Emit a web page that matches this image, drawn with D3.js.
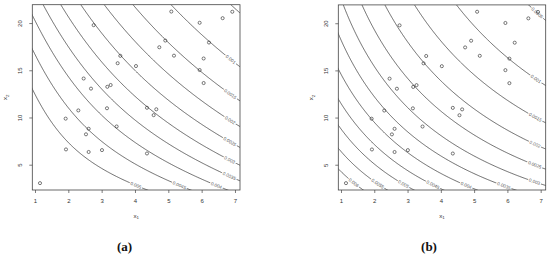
<!DOCTYPE html>
<html><head><meta charset="utf-8">
<script src="https://cdn.jsdelivr.net/npm/d3@7"></script>
<style>body{margin:0;background:#fff}svg{display:block}</style>
</head><body>
<svg id="c" width="550" height="256"></svg>
<script>
// ---- data ----
const x1Values = [1.15,1.93,1.92,2.30,2.46,2.53,2.61,2.61,2.68,2.76,3.01,3.16,3.17,3.27,3.45,3.48,3.56,4.03,4.36,4.56,4.64,4.36,4.73,4.91,5.09,5.17,5.94,6.22,6.06,5.94,6.06,6.63,6.92];
const x2Values = [3.10,6.67,9.93,10.80,14.18,8.27,8.86,6.40,13.11,19.83,6.60,11.03,13.30,13.49,9.10,15.80,16.58,15.50,11.08,10.30,10.92,6.24,17.49,18.20,21.27,16.60,20.08,17.99,16.30,15.08,13.70,20.57,21.25];
const xTicks = [1,2,3,4,5,6,7];
const yTicks = [5,10,15,20];
const levelsA = [0.0005,0.001,0.0015,0.002,0.0025,0.003,0.0035,0.004,0.0045,0.005];
const levelsB = [0.0005,0.001,0.0015,0.002,0.0025,0.003,0.0035,0.004,0.0045,0.005,0.0055,0.006];
// contour readings (x1, x2, level) used to rebuild each surface
const readA_x1 = [0.95,0.95,0.95,1.245,1.797,2.397,3.126,3.897,5.097,6.897,6.85,6.85,6.85,6.85,6.85,6.85,4.0,5.04,6.07,6.21,4.92,5.95];
const readA_x2 = [13.27,16.88,20.21,22,22,22,22,22,22,22,16.17,12.26,9.85,8.09,5.32,3.90,3.14,3.14,3.14,18.0,18.2,15.1];
const readA_lev = [0.005,0.0045,0.004,0.0035,0.003,0.0025,0.002,0.0015,0.001,0.0005,0.001,0.0015,0.002,0.0025,0.003,0.0035,0.005,0.0045,0.004,0.001,0.0015,0.0015];
const readB_x1 = [0.95,0.95,0.95,0.95,0.95,0.95,1.07,1.67,2.32,3.17,4.47,6.67,6.82,6.82,6.82,6.82,6.82,6.76,1.21,1.96,2.71,3.55,4.45,5.53,6.05];
const readB_x2 = [4.29,6.63,9.29,11.95,14.93,18.44,22,22,22,22,22,22,3.22,5.14,7.16,10.14,14.18,21.5,3.64,3.43,3.33,3.43,3.33,3.22,16.3];
const readB_lev = [0.006,0.0055,0.005,0.0045,0.004,0.0035,0.003,0.0025,0.002,0.0015,0.001,0.0005,0.003,0.0025,0.002,0.0015,0.001,0.0005,0.006,0.0055,0.005,0.0045,0.004,0.0035,0.001];

// ---- surface fit: log f = quadratic in (x1,x2) ----
function solve(A,b){const n=b.length;for(let k=0;k<n;k++){let p=k;for(let i=k+1;i<n;i++)if(Math.abs(A[i][k])>Math.abs(A[p][k]))p=i;[A[k],A[p]]=[A[p],A[k]];[b[k],b[p]]=[b[p],b[k]];for(let i=k+1;i<n;i++){const f=A[i][k]/A[k][k];for(let j=k;j<n;j++)A[i][j]-=f*A[k][j];b[i]-=f*b[k];}}const x=new Array(n).fill(0);for(let i=n-1;i>=0;i--){let s=b[i];for(let j=i+1;j<n;j++)s-=A[i][j]*x[j];x[i]=s/A[i][i];}return x;}
function fitSurface(xs,ys,ls){
  const phi=(x,y)=>{const u=x/7,v=y/22;return [1,u,v,u*v,u*u,v*v];};
  const n=6,A=d3.range(n).map(()=>new Array(n).fill(0)),B=new Array(n).fill(0);
  xs.forEach((xv,i)=>{const p=phi(xv,ys[i]);const t=Math.log(ls[i]);for(let r=0;r<n;r++){B[r]+=p[r]*t;for(let c=0;c<n;c++)A[r][c]+=p[r]*p[c];}});
  for(let r=0;r<n;r++)A[r][r]+=1e-6;
  const beta=solve(A,B);
  return (x,y)=>Math.exp(d3.sum(phi(x,y),(v,i)=>v*beta[i]));
}

const svg = d3.select('#c');
const font = 'Liberation Sans, Arial, Helvetica, sans-serif';
const pad = (e)=>{const w=e[1]-e[0];return [e[0]-0.04*w,e[1]+0.04*w];};
const xDom = pad(d3.extent(x1Values)), yDom = pad(d3.extent(x2Values));

const panels = [
  {id:'a', left:32.3, right:240, top:4.7, bottom:190, levels:levelsA, f:fitSurface(readA_x1,readA_x2,readA_lev), tag:'(a)', tagX:124.5},
  {id:'b', left:338.3, right:545.7, top:4.9, bottom:190, levels:levelsB, f:fitSurface(readB_x1,readB_x2,readB_lev), tag:'(b)', tagX:429}
];

panels.forEach(p=>{
  const x=d3.scaleLinear().domain(xDom).range([p.left,p.right]);
  const y=d3.scaleLinear().domain(yDom).range([p.bottom,p.top]);
  const g=svg.append('g');
  const defs=svg.append('defs');
  defs.append('clipPath').attr('id','clip'+p.id).append('rect')
    .attr('x',p.left).attr('y',p.top).attr('width',p.right-p.left).attr('height',p.bottom-p.top);
  const mask=defs.append('mask').attr('id','mask'+p.id).attr('maskUnits','userSpaceOnUse')
    .attr('x',0).attr('y',0).attr('width',550).attr('height',256);
  mask.append('rect').attr('x',0).attr('y',0).attr('width',550).attr('height',256).attr('fill','#fff');

  // grid
  const nx=260,ny=260;
  const gx0=xDom[0]-0.4,gx1=xDom[1]+0.4,gy0=yDom[0]-1.2,gy1=yDom[1]+1.2;
  const dx=(gx1-gx0)/(nx-1),dy=(gy1-gy0)/(ny-1);
  const vals=new Float64Array(nx*ny);
  for(let j=0;j<ny;j++)for(let i=0;i<nx;i++)vals[j*nx+i]=p.f(gx0+i*dx,gy0+j*dy);
  const cs=d3.contours().size([nx,ny]).thresholds(p.levels)(vals);
  const toPx=(pt)=>[x(gx0+(pt[0]-0.5)*dx),y(gy0+(pt[1]-0.5)*dy)];
  const inside=(q)=>q[0]>=p.left-0.01&&q[0]<=p.right+0.01&&q[1]>=p.top-0.01&&q[1]<=p.bottom+0.01;

  const lineG=g.append('g').attr('clip-path','url(#clip'+p.id+')').attr('mask','url(#mask'+p.id+')');
  const labG=g.append('g');
  const lineGen=d3.line();

  cs.forEach(c=>{
    const runs=[];
    c.coordinates.forEach(poly=>poly.forEach(ring=>{
      const pts=ring.map(toPx);
      lineG.append('path').attr('d',lineGen(pts)+'Z').attr('fill','none').attr('stroke','#1a1a1a').attr('stroke-width',0.65);
      // split into inside runs
      let s=pts.findIndex(q=>!inside(q));
      if(s<0)return;
      const rot=pts.slice(s).concat(pts.slice(0,s));
      let cur=[];
      rot.forEach(q=>{if(inside(q))cur.push(q);else{if(cur.length>1)runs.push(cur);cur=[];}});
      if(cur.length>1)runs.push(cur);
    }));
    if(!runs.length)return;
    const len=r=>d3.sum(d3.pairs(r),([a,b])=>Math.hypot(b[0]-a[0],b[1]-a[1]));
    let run=runs.reduce((a,b)=>len(a)>len(b)?a:b);
    const e0=run[0],e1=run[run.length-1];
    if(e0[0]+e0[1]<e1[0]+e1[1])run=run.slice().reverse();
    const L=len(run);
    const txt=String(c.value);
    const t=labG.append('text').text(txt).attr('font-family',font).attr('font-size',4.6)
      .attr('fill','#555').attr('text-anchor','middle').attr('dominant-baseline','central');
    const w=t.node().getComputedTextLength();
    if(L<w*0.95){t.remove();return;}
    const D=Math.min(11.5,L/2);
    const at=(d)=>{let acc=0;for(let i=1;i<run.length;i++){const a=run[i-1],b=run[i];const s=Math.hypot(b[0]-a[0],b[1]-a[1]);if(acc+s>=d){const k=(d-acc)/s;return [a[0]+k*(b[0]-a[0]),a[1]+k*(b[1]-a[1])];}acc+=s;}return run[run.length-1];};
    const ctr=at(D),pa=at(Math.max(0,D-4)),pb=at(D+4);
    let ang=Math.atan2(pa[1]-pb[1],pa[0]-pb[0])*180/Math.PI;
    if(ang>90)ang-=180;if(ang<=-90)ang+=180;
    t.attr('transform',`translate(${ctr[0]},${ctr[1]}) rotate(${ang})`);
    mask.append('rect').attr('x',-w/2-1).attr('y',-2.6).attr('width',w+2).attr('height',5.2)
      .attr('fill','#000').attr('transform',`translate(${ctr[0]},${ctr[1]}) rotate(${ang})`);
  });

  // points
  g.append('g').selectAll('circle').data(x1Values).join('circle')
    .attr('cx',(d)=>x(d)).attr('cy',(d,i)=>y(x2Values[i])).attr('r',1.55)
    .attr('fill','none').attr('stroke','#222').attr('stroke-width',0.6);

  // box
  g.append('rect').attr('x',p.left).attr('y',p.top).attr('width',p.right-p.left).attr('height',p.bottom-p.top)
    .attr('fill','none').attr('stroke','#444').attr('stroke-width',0.8);

  // x axis
  const xa=g.append('g').attr('transform',`translate(0,${p.bottom})`)
    .call(d3.axisBottom(x).tickValues(xTicks).tickSize(3).tickSizeOuter(0).tickPadding(5.5).tickFormat(d3.format('d')));
  xa.select('.domain').remove();
  xa.selectAll('line').attr('stroke','#444').attr('stroke-width',0.7);
  xa.selectAll('text').attr('font-family',font).attr('font-size',6).attr('fill','#333');
  // y axis
  const ya=g.append('g');
  ya.selectAll('line').data(yTicks).join('line').attr('x1',p.left-3).attr('x2',p.left)
    .attr('y1',d=>y(d)).attr('y2',d=>y(d)).attr('stroke','#444').attr('stroke-width',0.7);
  ya.selectAll('text').data(yTicks).join('text').text(d=>d)
    .attr('transform',d=>`translate(${p.left-10},${y(d)}) rotate(-90)`)
    .attr('text-anchor','middle').attr('font-family',font).attr('font-size',6).attr('fill','#333');
  // axis titles
  const xt=g.append('text').attr('x',(p.left+p.right)/2).attr('y',217.5).attr('text-anchor','middle')
    .attr('font-family',font).attr('font-size',6.2).attr('fill','#333');
  xt.append('tspan').text('x');
  xt.append('tspan').text('1').attr('font-size',4.4).attr('dy',1.3);
  const yt=g.append('text').attr('transform',`translate(${p.left-25},${(p.top+p.bottom)/2}) rotate(-90)`)
    .attr('text-anchor','middle').attr('font-family',font).attr('font-size',6.2).attr('fill','#333');
  yt.append('tspan').text('x');
  yt.append('tspan').text('2').attr('font-size',4.4).attr('dy',1.3);
  // panel tag
  g.append('text').attr('x',p.tagX).attr('y',250.5).attr('text-anchor','middle')
    .attr('font-family','Liberation Serif, Times New Roman, serif').attr('font-weight','bold')
    .attr('font-size',13).attr('fill','#111').text(p.tag);
});
</script>
</body></html>
